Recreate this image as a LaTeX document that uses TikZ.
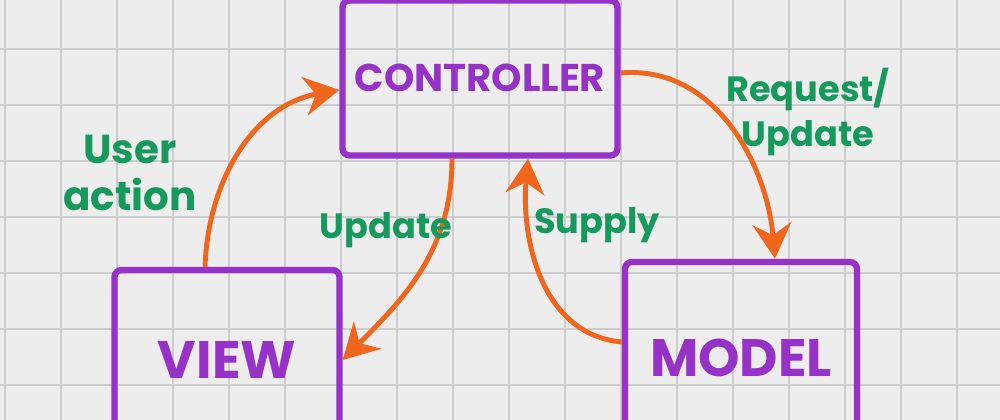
\documentclass[tikz,border=0pt]{standalone}
\usepackage{fontspec}
\setmainfont{Poppins}
\usetikzlibrary{arrows.meta}

\definecolor{paper}{HTML}{EDEDED}
\definecolor{gridline}{HTML}{CDCDCD}
\definecolor{marker}{HTML}{9632C8}
\definecolor{pen}{HTML}{16995C}
\definecolor{flow}{HTML}{F0661C}

\tikzset{
	box/.style={draw=marker, line width=1.8pt, rounded corners=2pt, text=marker,
		font=\fontsize{15}{15}\selectfont\bfseries},
	note/.style={text=pen, align=center, font=\fontsize{10}{13}\selectfont\bfseries},
	link/.style={draw=flow, line width=1.4pt, -{Stealth[length=10pt,width=11pt]}},
}

\begin{document}
\begin{tikzpicture}[font=\small]
		\useasboundingbox (0, 0) rectangle (10, 4.2);
		\clip (0, 0) rectangle (10, 4.2);
		% squared paper
		\fill[paper] (0, 0) rectangle (10, 4.2);
		\foreach \x in {0,...,17}
			\draw[gridline, line width=0.4pt] ({0.05+0.56*\x}, 0) -- ++(0, 4.2);
		\foreach \y in {0,...,7}
			\draw[gridline, line width=0.4pt] (0, {3.71-0.56*\y}) -- ++(10, 0);

		\node[box, minimum width=2.75cm, minimum height=1.55cm,
			font=\fontsize{11}{11}\selectfont\bfseries] (controller) at (4.80, 3.42) {CONTROLLER};
		\node[box, minimum width=2.25cm, minimum height=1.8cm] (view) at (2.27, 0.6) {VIEW};
		\node[box, minimum width=2.32cm, minimum height=1.92cm] (model) at (7.41, 0.62) {MODEL};

		\draw[link] ([xshift=-0.22cm]view.north) to[out=88, in=190] ([yshift=-0.12cm]controller.west);
		\draw[link] ([yshift=0.05cm]controller.east) to[out=5, in=95] ([xshift=0.34cm]model.north);
		\draw[link] ([xshift=-0.28cm]controller.south) to[out=-90, in=45] (view.east);
		\draw[link] ([yshift=0.16cm]model.west) to[out=175, in=-95] ([xshift=0.48cm]controller.south);

		\node[note, font=\fontsize{11.5}{13.5}\selectfont\bfseries] (action) at (1.30, 2.47) {User\\action};
		\node[note] (request) at (8.08, 3.08) {Request/\\Update};
		\node[note] (update) at (3.86, 1.90) {Update};
		\node[note] (supply) at (5.97, 1.95) {Supply};
	\end{tikzpicture}
\end{document}
